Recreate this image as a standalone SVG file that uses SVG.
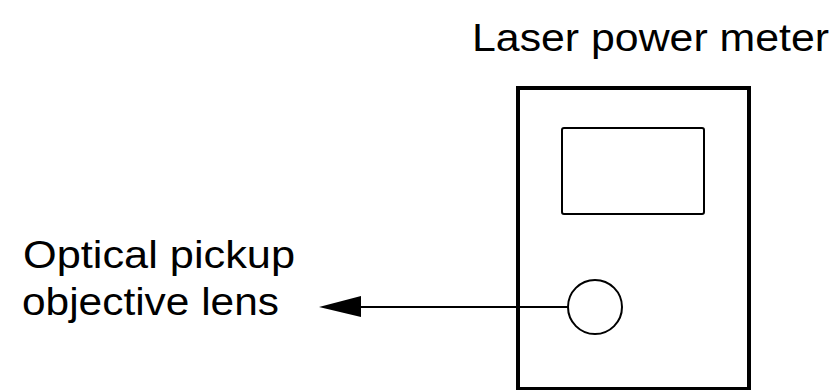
<svg xmlns="http://www.w3.org/2000/svg" width="837" height="390" viewBox="0 0 837 390">
<style>
.t{font-family:"Liberation Sans",Arial,sans-serif;font-size:38px;fill:#000}
.thick{fill:none;stroke:#000;stroke-width:4}
.thin{fill:none;stroke:#000;stroke-width:2}
</style>
<rect width="837" height="390" fill="#fff"/>
<g id="meter">
<rect class="thick" x="518" y="88" width="231" height="301"/>
<rect class="thin" x="562" y="128" width="142" height="86" rx="2"/>
<circle class="thin" cx="595" cy="307" r="27"/>
<text class="t" x="472" y="51" textLength="357" lengthAdjust="spacingAndGlyphs">Laser power meter</text>
</g>
<g id="lens-label">
<text class="t" x="23" y="268" textLength="272" lengthAdjust="spacingAndGlyphs">Optical pickup</text>
<text class="t" x="22" y="315" textLength="257" lengthAdjust="spacingAndGlyphs">objective lens</text>
</g>
<g id="connectors">
<line class="thin" x1="360" y1="307" x2="568" y2="307"/>
<polygon points="319,307 361,296 361,317" fill="#000"/>
</g>
</svg>
